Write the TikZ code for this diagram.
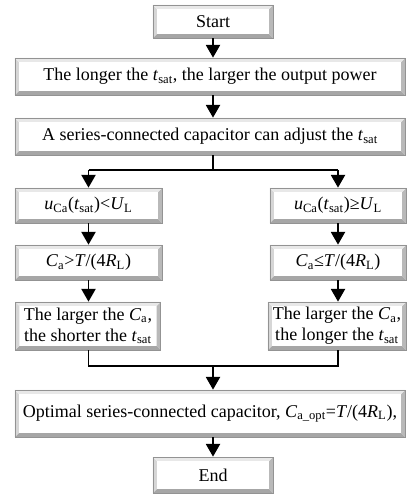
\documentclass[tikz,border=0pt]{standalone}
\usepackage{fontspec}
\setmainfont{Liberation Serif}
\usetikzlibrary{arrows.meta,calc}
\newcommand{\sbs}[1]{\textsubscript{#1}}
\newcommand{\tsat}{\textit{t}\sbs{sat}}
\begin{document}
\begin{tikzpicture}[x=0.025cm,y=-0.025cm,
  bev/.style={draw=gray!85, line width=0.5pt, fill=white, inner sep=0pt, align=center,
    font=\fontsize{12.8}{15}\selectfont,
    path picture={
      \path (path picture bounding box.south west) coordinate (pSW)
            (path picture bounding box.north east) coordinate (pNE);
      \fill[gray!70] (pSW) -- (pSW -| pNE) -- ($(pSW -| pNE)+(-2.8pt,2.8pt)$) -- ($(pSW)+(2.8pt,2.8pt)$) -- cycle;
      \fill[gray!55] (pSW -| pNE) -- (pNE) -- ($(pNE)+(-2.8pt,-2.8pt)$) -- ($(pSW -| pNE)+(-2.8pt,2.8pt)$) -- cycle;
      \fill[gray!32] (pSW) -- (pSW |- pNE) -- ($(pSW |- pNE)+(2.8pt,-2.8pt)$) -- ($(pSW)+(2.8pt,2.8pt)$) -- cycle;
      \fill[gray!18] (pSW |- pNE) -- (pNE) -- ($(pNE)+(-2.8pt,-2.8pt)$) -- ($(pSW |- pNE)+(2.8pt,-2.8pt)$) -- cycle;
    }},
  arr/.style={line width=1.2pt, -{Triangle[length=9pt,width=10pt]}},
  ln/.style={line width=1.2pt}]
\useasboundingbox (0,0) rectangle (406,497);

\node[bev, minimum width=3cm, minimum height=0.825cm] (start) at (213,21.5) {Start};
\node[bev, minimum width=9.75cm, minimum height=0.925cm] (b2) at (210,76.5)
  {The longer the \tsat, the larger the output power};
\node[bev, minimum width=9.75cm, minimum height=0.925cm] (b3) at (210,136.5)
  {A series-connected capacitor can adjust the \tsat};

\node[bev, minimum width=3.675cm, minimum height=0.875cm] (l1) at (88.5,205.5)
  {\textit{u}\sbs{Ca}(\tsat)<\textit{U}\sbs{L}};
\node[bev, minimum width=3.4cm, minimum height=0.875cm] (r1) at (338,205.5)
  {\textit{u}\sbs{Ca}(\tsat)≥\textit{U}\sbs{L}};
\node[bev, minimum width=3.675cm, minimum height=0.875cm] (l2) at (88.5,262.5)
  {\textit{C}\sbs{a}>\textit{T}/(4\textit{R}\sbs{L})};
\node[bev, minimum width=3.4cm, minimum height=0.875cm] (r2) at (338,262.5)
  {\textit{C}\sbs{a}≤\textit{T}/(4\textit{R}\sbs{L})};
\node[bev, minimum width=3.625cm, minimum height=1.2cm] (l3) at (88,326)
  {The larger the \textit{C}\sbs{a},\\the shorter the \tsat};
\node[bev, minimum width=3.45cm, minimum height=1.2cm] (r3) at (337,326)
  {The larger the \textit{C}\sbs{a},\\the longer the \tsat};

\node[bev, minimum width=9.75cm, minimum height=1.175cm] (opt) at (210,413.5)
  {Optimal series-connected capacitor, \textit{C}\sbs{a\_opt}=\textit{T}/(4\textit{R}\sbs{L}),};
\node[bev, minimum width=3cm, minimum height=0.9cm] (end) at (213,475) {End};

\coordinate (s) at (213,170);
\coordinate (m) at (213,366);

\draw[arr] (start.south) -- (start.south |- b2.north);
\draw[arr] (start.south |- b2.south) -- (start.south |- b3.north);
\draw[ln] (start.south |- b3.south) -- (s);
\draw[ln] (l1.north |- s) -- (r1.north |- s);
\draw[arr] (l1.north |- s) -- (l1.north);
\draw[arr] (r1.north |- s) -- (r1.north);
\draw[arr] (l1.south) -- (l2.north);
\draw[arr] (r1.south) -- (r2.north);
\draw[arr] (l2.south) -- (l2.south |- l3.north);
\draw[arr] (r2.south) -- (r2.south |- r3.north);
\draw[ln] (l2.south |- l3.south) -- (l2.south |- m) -- (r2.south |- m) -- (r2.south |- r3.south);
\draw[arr] (m) -- (m |- opt.north);
\draw[arr] (start.south |- opt.south) -- (start.south |- end.north);
\end{tikzpicture}
\end{document}
